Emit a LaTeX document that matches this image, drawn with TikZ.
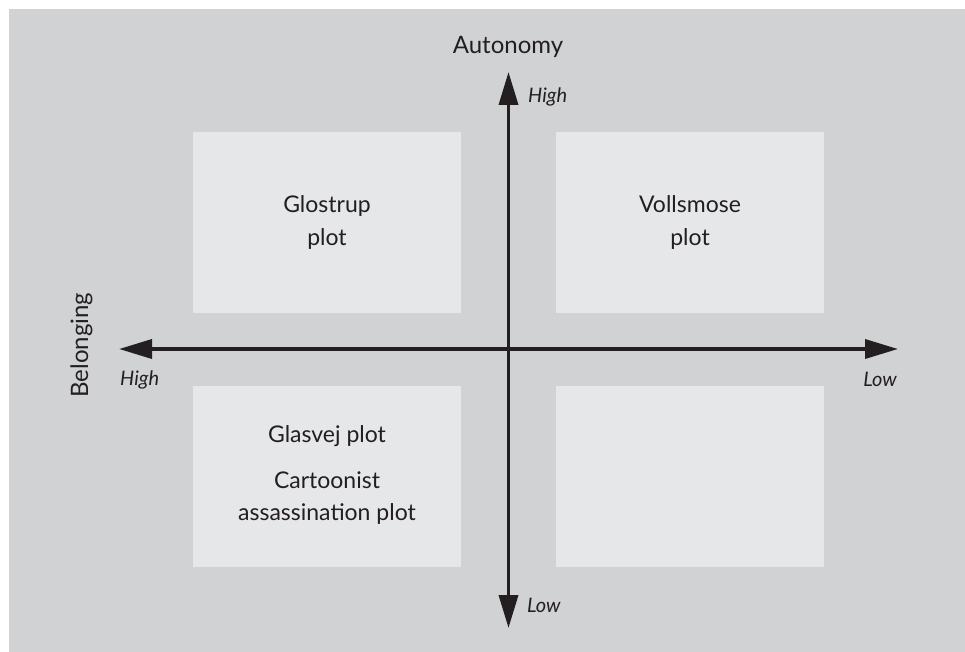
\documentclass[tikz,border=0pt]{standalone}
\usepackage{fontspec}
\setmainfont{Lato}
\usetikzlibrary{arrows.meta}
\definecolor{bg}{HTML}{D1D2D4}
\definecolor{boxc}{HTML}{E6E7E8}
\definecolor{ink}{HTML}{231F20}
\tikzset{
  quad/.style={fill=boxc, draw=none},
  axis/.style={ink, line width=3.6pt, -{Triangle[length=33pt,width=19pt]}},
  lbl/.style={text=ink, font=\fontsize{24}{27}\selectfont, inner sep=0pt, anchor=base},
  endlbl/.style={text=ink, font=\fontsize{20}{23}\selectfont\itshape, inner sep=0pt},
  boxtxt/.style={text=ink, font=\fontsize{23}{26}\selectfont, inner sep=0pt, anchor=base}
}
\begin{document}
\begin{tikzpicture}[x=1pt,y=-1pt]
\useasboundingbox (0,0) rectangle (965,652);
\fill[white] (0,0) rectangle (965,652);
\fill[bg] (9,9) rectangle (965,652);
\fill[quad] (193,132) rectangle (461,313);
\fill[quad] (556,132) rectangle (824,313);
\fill[quad] (193,386) rectangle (461,567);
\fill[quad] (556,386) rectangle (824,567);
\node[boxtxt] (glo1) at (327,212) {Glostrup};
\node[boxtxt] (glo2) at (327,245) {plot};
\node[boxtxt] (vol1) at (690,212) {Vollsmose};
\node[boxtxt] (vol2) at (690,245) {plot};
\node[boxtxt] (gla) at (327,442) {Glasvej plot};
\node[boxtxt] (car1) at (327,488) {Cartoonist};
\node[boxtxt] (car2) at (327,520) {assassination plot};
\coordinate (c) at (508.5,349);
\coordinate (L) at (119,349);
\coordinate (R) at (898,349);
\coordinate (T) at (508.5,72);
\coordinate (B) at (508.5,628);
\draw[axis] (c) -- (L);
\draw[axis] (c) -- (R);
\draw[axis] (c) -- (T);
\draw[axis] (c) -- (B);
\node[lbl] (aut) at (508,54) {Autonomy};
\node[lbl, rotate=90] (bel) at (88,345) {Belonging};
\node[endlbl, anchor=base west] (th) at (528,103) {High};
\node[endlbl, anchor=base west] (bl) at (527,612) {Low};
\node[endlbl, anchor=base west] (lh) at (120,385) {High};
\node[endlbl, anchor=base east] (rl) at (897,386) {Low};
\end{tikzpicture}
\end{document}
